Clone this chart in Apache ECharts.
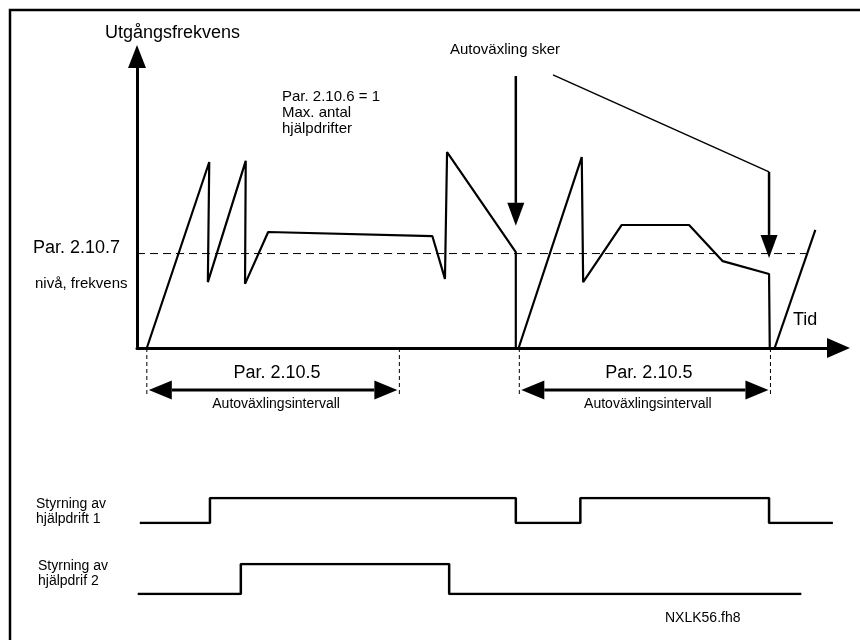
<!DOCTYPE html>
<html>
<head>
<meta charset="utf-8">
<script src="https://cdn.jsdelivr.net/npm/echarts@6/dist/echarts.min.js"></script>
<style>
  html, body { margin: 0; padding: 0; background: #fff; }
  #chart { width: 860px; height: 640px; }
</style>
</head>
<body>
<div id="chart"></div>
<script>
// time axis 0..100, frequency axis 0..100 (arbitrary units)
const cycle1Time = [1.4, 10.3, 10.1, 15.5, 15.4, 18.7, 42.1, 43.9, 44.2, 54.0, 54.0]
const cycle1Freq = [0, 63.8, 22.6, 64.2, 22.0, 39.8, 38.4, 23.7, 67.2, 32.9, 0]
const cycle2Time = [54.4, 63.4, 63.6, 69.1, 78.7, 83.5, 90.1, 90.2]
const cycle2Freq = [0, 65.5, 22.6, 42.2, 42.2, 29.8, 25.4, 0]
const cycle3Time = [90.9, 96.7]
const cycle3Freq = [0, 40.5]

const thresholdLevel = 32.4 // Par. 2.10.7
const thresholdSpan = [0, 95.5]

// autochange interval (Par. 2.10.5): start / end times
const intervalStart = [1.4, 54.5]
const intervalEnd = [37.4, 90.3]

// "Autoväxling sker" pointers
const pointerA = [[54.0, 93.3], [54.0, 41.9]]
const pointerB = [[59.3, 93.7], [90.1, 60.4], [90.1, 30.9]]

// control signals: [time, state]
const drive1 = [[0.4, 0], [10.4, 1], [54.0, 0], [63.2, 1], [90.1, 0], [99.2, 0]]
const drive2 = [[0.1, 0], [14.8, 1], [44.5, 0], [94.7, 0]]

const FONT = '"Liberation Sans", Arial, sans-serif'

function zip(xs, ys) {
  return xs.map((x, i) => [x, ys[i]])
}

function head(tip, from, len, wid) {
  const dx = tip[0] - from[0]
  const dy = tip[1] - from[1]
  const d = Math.hypot(dx, dy) || 1
  const ux = dx / d, uy = dy / d
  const bx = tip[0] - ux * len, by = tip[1] - uy * len
  const px = -uy * wid / 2, py = ux * wid / 2
  return {
    base: [bx, by],
    shape: {
      type: 'polygon',
      shape: { points: [tip, [bx + px, by + py], [bx - px, by - py]] },
      style: { fill: '#000' }
    }
  }
}

function toSegments(points) {
  const segs = []
  for (let i = 1; i < points.length; i++) {
    const a = points[i - 1], b = points[i]
    segs.push([a[0], a[1], b[0], b[1], i === points.length - 1 ? 1 : 0])
  }
  return segs
}

const pointerSegs = toSegments(pointerA).concat(toSegments(pointerB))
const intervals = intervalStart.map((s, i) => [s, intervalEnd[i]])

const gridLeft = 137
const gridRight = 21.5

const chart = echarts.init(document.getElementById('chart'))

const lineStyleBlack = { color: '#000', width: 2.2 }

chart.setOption({
  animation: false,
  backgroundColor: '#fff',
  grid: [
    { left: gridLeft, right: gridRight, top: 56.5, bottom: 292 },
    { left: gridLeft, right: gridRight, top: 498, height: 25 },
    { left: gridLeft, right: gridRight, top: 564, height: 30 }
  ],
  xAxis: [
    {
      type: 'value', gridIndex: 0, min: 0, max: 100,
      axisLine: {
        show: true,
        symbol: ['none', 'triangle'],
        symbolSize: [20, 23],
        lineStyle: { color: '#000', width: 3 }
      },
      axisTick: { show: false }, axisLabel: { show: false }, splitLine: { show: false }
    },
    { type: 'value', gridIndex: 1, min: 0, max: 100, show: false },
    { type: 'value', gridIndex: 2, min: 0, max: 100, show: false }
  ],
  yAxis: [
    {
      type: 'value', gridIndex: 0, min: 0, max: 100,
      axisLine: {
        show: true,
        symbol: ['none', 'triangle'],
        symbolSize: [18, 23],
        lineStyle: { color: '#000', width: 3 }
      },
      axisTick: { show: false }, axisLabel: { show: false }, splitLine: { show: false }
    },
    { type: 'value', gridIndex: 1, min: 0, max: 1, show: false },
    { type: 'value', gridIndex: 2, min: 0, max: 1, show: false }
  ],
  graphic: [
    {
      type: 'polyline',
      shape: { points: [[10, 640], [10, 10], [860, 10]] },
      style: { stroke: '#000', lineWidth: 2.5, fill: null }
    },
    { type: 'text', x: 105, y: 33, style: { text: 'Utgångsfrekvens', font: '18px ' + FONT, fill: '#000', verticalAlign: 'middle' } },
    { type: 'text', x: 33, y: 248, style: { text: 'Par. 2.10.7', font: '18px ' + FONT, fill: '#000', verticalAlign: 'middle' } },
    { type: 'text', x: 35, y: 284, style: { text: 'nivå, frekvens', font: '15px ' + FONT, fill: '#000', verticalAlign: 'middle' } },
    { type: 'text', x: 282, y: 89, style: { text: 'Par. 2.10.6 = 1\nMax. antal\nhjälpdrifter', font: '15px ' + FONT, lineHeight: 16, fill: '#000', verticalAlign: 'top' } },
    { type: 'text', x: 450, y: 50, style: { text: 'Autoväxling sker', font: '15px ' + FONT, fill: '#000', verticalAlign: 'middle' } },
    { type: 'text', x: 793, y: 320, style: { text: 'Tid', font: '18px ' + FONT, fill: '#000', verticalAlign: 'middle' } },
    { type: 'text', x: 36, y: 496.5, style: { text: 'Styrning av\nhjälpdrift 1', font: '14px ' + FONT, lineHeight: 15, fill: '#000', verticalAlign: 'top' } },
    { type: 'text', x: 38, y: 558.5, style: { text: 'Styrning av\nhjälpdrif 2', font: '14px ' + FONT, lineHeight: 15, fill: '#000', verticalAlign: 'top' } },
    { type: 'text', x: 665, y: 618, style: { text: 'NXLK56.fh8', font: '14px ' + FONT, fill: '#000', verticalAlign: 'middle' } }
  ],
  series: [
    {
      name: 'threshold', type: 'line', xAxisIndex: 0, yAxisIndex: 0,
      data: thresholdSpan.map(t => [t, thresholdLevel]),
      symbol: 'none', silent: true,
      lineStyle: { color: '#000', width: 1, type: [8, 5] }
    },
    {
      name: 'cycle1', type: 'line', xAxisIndex: 0, yAxisIndex: 0,
      data: zip(cycle1Time, cycle1Freq), symbol: 'none', silent: true,
      lineStyle: lineStyleBlack
    },
    {
      name: 'cycle2', type: 'line', xAxisIndex: 0, yAxisIndex: 0,
      data: zip(cycle2Time, cycle2Freq), symbol: 'none', silent: true,
      lineStyle: lineStyleBlack
    },
    {
      name: 'cycle3', type: 'line', xAxisIndex: 0, yAxisIndex: 0,
      data: zip(cycle3Time, cycle3Freq), symbol: 'none', silent: true,
      lineStyle: lineStyleBlack
    },
    {
      name: 'pointers', type: 'custom', xAxisIndex: 0, yAxisIndex: 0,
      silent: true, clip: false,
      encode: { x: [0, 2], y: [1, 3] },
      data: pointerSegs,
      renderItem: function (params, api) {
        const p1 = api.coord([api.value(0), api.value(1)])
        const p2 = api.coord([api.value(2), api.value(3)])
        const children = []
        let end = p2
        const diagonal = p1[0] !== p2[0]
        if (api.value(4)) {
          const h = head(p2, p1, 23, 17)
          end = h.base
          children.push(h.shape)
        }
        children.unshift({
          type: 'line',
          shape: { x1: p1[0], y1: p1[1], x2: end[0], y2: end[1] },
          style: { stroke: '#000', lineWidth: diagonal ? 1.5 : 2.5 }
        })
        return { type: 'group', children: children }
      }
    },
    {
      name: 'interval', type: 'custom', xAxisIndex: 0, yAxisIndex: 0,
      silent: true, clip: false,
      encode: { x: [0, 1] },
      data: intervals,
      renderItem: function (params, api) {
        const a = api.coord([api.value(0), 0])
        const b = api.coord([api.value(1), 0])
        const y0 = a[1]
        const ya = y0 + 42
        const h1 = head([a[0] + 2, ya], [b[0], ya], 23, 19)
        const h2 = head([b[0] - 2, ya], [a[0], ya], 23, 19)
        const mid = (a[0] + b[0]) / 2
        return {
          type: 'group',
          children: [
            { type: 'line', shape: { x1: a[0], y1: y0, x2: a[0], y2: y0 + 47 }, style: { stroke: '#000', lineWidth: 1, lineDash: [4, 3] } },
            { type: 'line', shape: { x1: b[0], y1: y0, x2: b[0], y2: y0 + 47 }, style: { stroke: '#000', lineWidth: 1, lineDash: [4, 3] } },
            { type: 'line', shape: { x1: h1.base[0], y1: ya, x2: h2.base[0], y2: ya }, style: { stroke: '#000', lineWidth: 3 } },
            h1.shape,
            h2.shape,
            { type: 'text', x: mid + 4, y: y0 + 25, style: { text: 'Par. 2.10.5', font: '18px ' + FONT, fill: '#000', align: 'center', verticalAlign: 'middle' } },
            { type: 'text', x: mid + 3, y: y0 + 56, style: { text: 'Autoväxlingsintervall', font: '14px ' + FONT, fill: '#000', align: 'center', verticalAlign: 'middle' } }
          ]
        }
      }
    },
    {
      name: 'Styrning av hjälpdrift 1', type: 'line', xAxisIndex: 1, yAxisIndex: 1,
      data: drive1, step: 'end', symbol: 'none', silent: true,
      lineStyle: { color: '#000', width: 2.5 }
    },
    {
      name: 'Styrning av hjälpdrift 2', type: 'line', xAxisIndex: 2, yAxisIndex: 2,
      data: drive2, step: 'end', symbol: 'none', silent: true,
      lineStyle: { color: '#000', width: 2.5 }
    }
  ]
})
</script>
</body>
</html>
